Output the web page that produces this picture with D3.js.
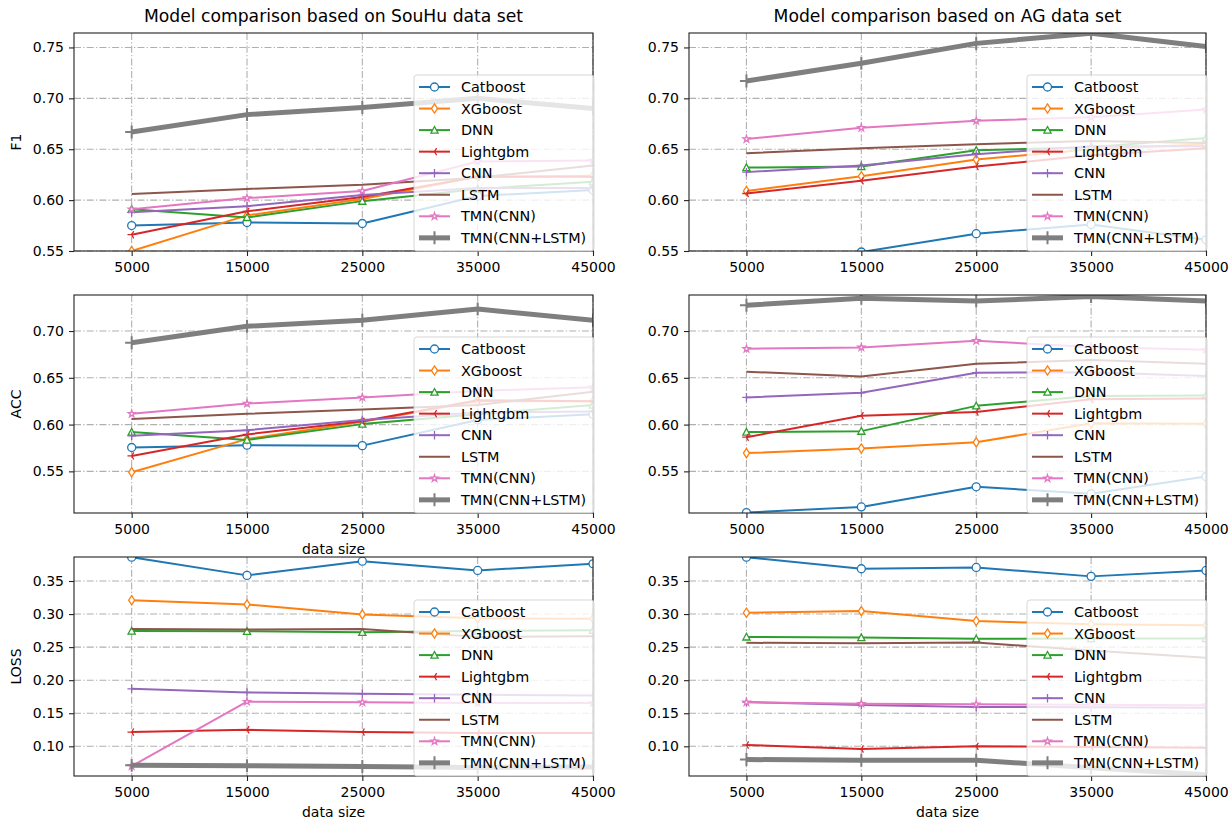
<!DOCTYPE html>
<html>
<head>
<meta charset="utf-8">
<script src="https://cdn.jsdelivr.net/npm/d3@7/dist/d3.min.js"></script>
<style>
    body { margin: 0; background: #fff; }
    svg text { font-family: "DejaVu Sans", sans-serif; fill: #000; }
</style>
</head>
<body>
<div class="chart"></div>
<script>
const width = 1231;
const height = 822;

// x values and labels
const sizes = [5000, 15000, 25000, 35000, 45000];
const xTicks = [5000, 15000, 25000, 35000, 45000];
const models = ["Catboost", "XGboost", "DNN", "Lightgbm", "CNN", "LSTM", "TMN(CNN)", "TMN(CNN+LSTM)"];

// y tick labels per row
const f1Ticks = [0.55, 0.60, 0.65, 0.70, 0.75];
const accTicks = [0.55, 0.60, 0.65, 0.70];
const lossTicks = [0.10, 0.15, 0.20, 0.25, 0.30, 0.35];

// one row per model, in the order of `models`
const souhuF1 = [
    [0.575, 0.578, 0.577, 0.604, 0.610],
    [0.550, 0.585, 0.601, 0.623, 0.624],
    [0.591, 0.583, 0.599, 0.611, 0.618],
    [0.566, 0.589, 0.603, 0.623, 0.623],
    [0.588, 0.594, 0.605, 0.612, 0.612],
    [0.606, 0.611, 0.615, 0.622, 0.634],
    [0.591, 0.602, 0.609, 0.638, 0.639],
    [0.667, 0.684, 0.691, 0.700, 0.690],
];
const agF1 = [
    [0.525, 0.549, 0.567, 0.576, 0.561],
    [0.609, 0.6235, 0.640, 0.650, 0.655],
    [0.632, 0.633, 0.649, 0.652, 0.661],
    [0.6065, 0.619, 0.633, 0.644, 0.651],
    [0.6275, 0.634, 0.645, 0.653, 0.653],
    [0.646, 0.651, 0.655, 0.658, 0.656],
    [0.660, 0.671, 0.678, 0.6815, 0.689],
    [0.717, 0.7345, 0.754, 0.764, 0.751],
];
const souhuAcc = [
    [0.5755, 0.578, 0.5775, 0.605, 0.611],
    [0.549, 0.5845, 0.603, 0.625, 0.625],
    [0.592, 0.5835, 0.6005, 0.611, 0.621],
    [0.5665, 0.5895, 0.6035, 0.626, 0.625],
    [0.588, 0.594, 0.605, 0.613, 0.614],
    [0.606, 0.6115, 0.616, 0.621, 0.635],
    [0.6115, 0.6225, 0.629, 0.636, 0.640],
    [0.6875, 0.705, 0.7115, 0.7235, 0.7115],
];
const agAcc = [
    [0.506, 0.512, 0.5335, 0.526, 0.5445],
    [0.5695, 0.5745, 0.581, 0.6015, 0.601],
    [0.592, 0.593, 0.620, 0.6305, 0.631],
    [0.5865, 0.6095, 0.6135, 0.627, 0.628],
    [0.629, 0.634, 0.6555, 0.6560, 0.652],
    [0.6565, 0.6515, 0.665, 0.669, 0.665],
    [0.681, 0.6825, 0.6895, 0.683, 0.680],
    [0.7275, 0.735, 0.732, 0.737, 0.732],
];
const souhuLoss = [
    [0.386, 0.3585, 0.380, 0.366, 0.376],
    [0.321, 0.3145, 0.2995, 0.2935, 0.293],
    [0.2745, 0.274, 0.2725, 0.2745, 0.2755],
    [0.1215, 0.125, 0.1215, 0.120, 0.120],
    [0.187, 0.1815, 0.1795, 0.178, 0.177],
    [0.2775, 0.2765, 0.2775, 0.2655, 0.2665],
    [0.070, 0.1675, 0.1665, 0.1655, 0.1656],
    [0.0715, 0.0705, 0.0695, 0.068, 0.0687],
];
const agLoss = [
    [0.386, 0.3685, 0.3705, 0.357, 0.366],
    [0.302, 0.3045, 0.2895, 0.2846, 0.283],
    [0.2655, 0.2645, 0.2625, 0.263, 0.263],
    [0.102, 0.096, 0.100, 0.099, 0.098],
    [0.167, 0.1625, 0.1595, 0.1590, 0.1585],
    [0.2565, 0.256, 0.257, 0.245, 0.234],
    [0.1665, 0.1645, 0.1635, 0.1630, 0.162],
    [0.080, 0.079, 0.079, 0.0675, 0.057],
];

const colors = ["#1f77b4", "#ff7f0e", "#2ca02c", "#d62728", "#9467bd", "#8c564b", "#e377c2", "#7f7f7f"];
const markers = ["circle", "diamond", "triangle", "tri_left", "plus", "none", "star", "bigplus"];

// layout of the 3x2 grid
const colX = [[74, 593], [689, 1206]];
const rowY = [[33, 251], [295, 513], [557, 776]];
const rowDomains = [[0.55, 0.7642], [0.5055, 0.7385], [0.0551, 0.3863]];
const rowTicks = [f1Ticks, accTicks, lossTicks];
const rowLabels = ["F1", "ACC", "LOSS"];
const titles = ["Model comparison based on SouHu data set", "Model comparison based on AG data set"];
const panelData = [[souhuF1, agF1], [souhuAcc, agAcc], [souhuLoss, agLoss]];

function markerPath(type) {
    switch (type) {
        case "circle":
            return d3.symbol(d3.symbolCircle, Math.PI * 4 * 4)();
        case "diamond":
            return "M0,-4.6L3,0L0,4.6L-3,0Z";
        case "triangle":
            return "M0,-3.6L3.6,3.1L-3.6,3.1Z";
        case "tri_left":
            return "M0,0L-4.2,0M0,0L2.1,-3.6M0,0L2.1,3.6";
        case "plus":
            return "M-4.2,0L4.2,0M0,-4.2L0,4.2";
        case "star":
            return d3.symbol(d3.symbolStar, 15)();
        case "bigplus":
            return "M-6.5,0L6.5,0M0,-6.5L0,6.5";
        default:
            return null;
    }
}

function isFilled(type) {
    return type === "circle" || type === "diamond" || type === "triangle" || type === "star";
}

function drawMarker(g, type, color, cx, cy) {
    const p = markerPath(type);
    if (!p) return;
    g.append("path")
        .attr("d", p)
        .attr("transform", "translate(" + cx + "," + cy + ")")
        .attr("fill", isFilled(type) ? "#fff" : "none")
        .attr("stroke", color)
        .attr("stroke-width", type === "bigplus" ? 2 : 1.3);
}

let svg = d3.select(".chart")
    .append("svg")
    .attr("width", width)
    .attr("height", height);

function drawPanel(row, col) {
    const [x0, x1] = colX[col];
    const [y0, y1] = rowY[row];
    const data = panelData[row][col];
    const id = "clip-" + row + "-" + col;

    let xScale = d3.scaleLinear().domain([0, 45000]).range([x0, x1]);
    let yScale = d3.scaleLinear().domain(rowDomains[row]).range([y1, y0]);

    svg.append("clipPath")
        .attr("id", id)
        .append("rect")
        .attr("x", x0)
        .attr("y", y0)
        .attr("width", x1 - x0)
        .attr("height", y1 - y0);

    // dash-dot grid
    let grid = svg.append("g")
        .attr("stroke", "#b0b0b0")
        .attr("stroke-width", 1.1)
        .attr("stroke-dasharray", "7,2.2,1.3,2.2");
    grid.selectAll(".vg")
        .data(xTicks)
        .enter()
        .append("line")
        .attr("x1", (d) => xScale(d))
        .attr("x2", (d) => xScale(d))
        .attr("y1", y0)
        .attr("y2", y1);
    grid.selectAll(".hg")
        .data(rowTicks[row])
        .enter()
        .append("line")
        .attr("x1", x0)
        .attr("x2", x1)
        .attr("y1", (d) => yScale(d))
        .attr("y2", (d) => yScale(d));

    // series
    let plot = svg.append("g").attr("clip-path", "url(#" + id + ")");
    let line = d3.line()
        .x((d, i) => xScale(sizes[i]))
        .y((d) => yScale(d));
    data.forEach((vals, k) => {
        plot.append("path")
            .attr("d", line(vals))
            .attr("fill", "none")
            .attr("stroke", colors[k])
            .attr("stroke-width", k === 7 ? 5 : 2)
            .attr("stroke-linejoin", "round");
        vals.forEach((v, i) => {
            drawMarker(plot, markers[k], colors[k], xScale(sizes[i]), yScale(v));
        });
    });

    // spines
    svg.append("rect")
        .attr("x", x0)
        .attr("y", y0)
        .attr("width", x1 - x0)
        .attr("height", y1 - y0)
        .attr("fill", "none")
        .attr("stroke", "#222")
        .attr("stroke-width", 1.1);

    // axes
    let xAxis = d3.axisBottom(xScale)
        .tickValues(xTicks)
        .tickFormat(d3.format("d"))
        .tickSize(5)
        .tickSizeOuter(0)
        .tickPadding(6.5);
    let gx = svg.append("g")
        .attr("transform", "translate(0," + y1 + ")")
        .call(xAxis);
    let yAxis = d3.axisLeft(yScale)
        .tickValues(rowTicks[row])
        .tickFormat(d3.format(".2f"))
        .tickSize(5)
        .tickSizeOuter(0)
        .tickPadding(5);
    let gy = svg.append("g")
        .attr("transform", "translate(" + x0 + ",0)")
        .call(yAxis);
    [gx, gy].forEach((g) => {
        g.select(".domain").remove();
        g.selectAll("line").attr("stroke", "#222").attr("stroke-width", 1.1);
        g.selectAll("text")
            .attr("font-size", 14)
            .attr("font-family", "DejaVu Sans, sans-serif")
            .attr("fill", "#000");
    });

    if (row === 0) {
        svg.append("text")
            .text(titles[col])
            .attr("x", (x0 + x1) / 2)
            .attr("y", 22)
            .attr("text-anchor", "middle")
            .attr("font-size", 17.2);
    }
    if (col === 0) {
        svg.append("text")
            .text(rowLabels[row])
            .attr("text-anchor", "middle")
            .attr("transform", "translate(21," + (y0 + y1) / 2 + ") rotate(-90)")
            .attr("font-size", 14);
    }
    if ((row === 1 && col === 0) || row === 2) {
        svg.append("text")
            .text("data size")
            .attr("x", (x0 + x1) / 2)
            .attr("y", y1 + 41)
            .attr("text-anchor", "middle")
            .attr("font-size", 14);
    }

    // legend, lower right, semi transparent
    const lw = 179;
    const lh = 176;
    let legend = svg.append("g")
        .attr("transform", "translate(" + (x1 - lw) + "," + (y1 - lh) + ")");
    legend.append("rect")
        .attr("x", 0)
        .attr("y", 0)
        .attr("width", lw + 1)
        .attr("height", lh)
        .attr("rx", 3)
        .attr("fill", "#fff")
        .attr("fill-opacity", 0.8)
        .attr("stroke", "#cccccc")
        .attr("stroke-opacity", 0.8)
        .attr("stroke-width", 1);
    models.forEach((m, k) => {
        const cy = 12 + k * 21.55;
        legend.append("line")
            .attr("x1", 5)
            .attr("x2", 36)
            .attr("y1", cy)
            .attr("y2", cy)
            .attr("stroke", colors[k])
            .attr("stroke-width", k === 7 ? 5 : 2);
        drawMarker(legend, markers[k], colors[k], 20.5, cy);
        legend.append("text")
            .text(m)
            .attr("x", 47)
            .attr("y", cy)
            .attr("dy", "0.36em")
            .attr("font-size", 14.4);
    });
}

for (let r = 0; r < 3; r++) {
    for (let c = 0; c < 2; c++) {
        drawPanel(r, c);
    }
}
</script>
</body>
</html>
